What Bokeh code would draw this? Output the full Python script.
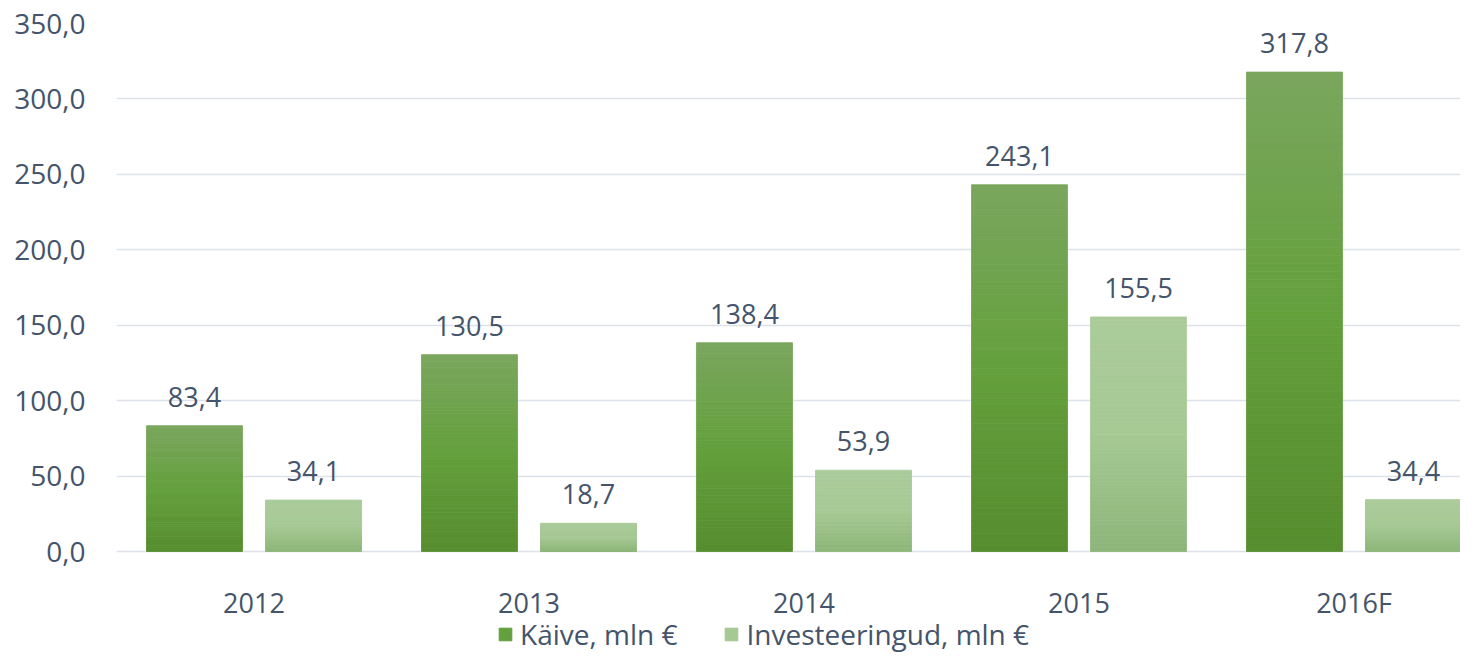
from bokeh.plotting import figure
from bokeh.models import (ColumnDataSource, FixedTicker, CustomJSTickFormatter,
                          Legend, LegendItem, Range1d)
from bokeh.core.properties import value
from bokeh.embed import file_html
from bokeh.resources import INLINE

# ---- data ----
years = ["2012", "2013", "2014", "2015", "2016F"]
kaive = [83.4, 130.5, 138.4, 243.1, 317.8]
invest = [34.1, 18.7, 53.9, 155.5, 34.4]
series_names = ["Käive, mln €", "Investeeringud, mln €"]
y_ticks = [0, 50, 100, 150, 200, 250, 300, 350]

FONT = "Open Sans"
TXT = "#44546a"

# gradient stops (bottom, middle, top)
grad_dark = ["#568d2e", "#64a03c", "#7aa65e"]
grad_light = ["#8db579", "#a6c994", "#abcb9b"]


def hex2rgb(h):
    h = h.lstrip("#")
    return tuple(int(h[i:i + 2], 16) for i in (0, 2, 4))


def interp(stops, t):
    c = [hex2rgb(s) for s in stops]
    if t <= 0.5:
        a, b, f = c[0], c[1], t / 0.5
    else:
        a, b, f = c[1], c[2], (t - 0.5) / 0.5
    return "#%02x%02x%02x" % tuple(int(round(a[i] + (b[i] - a[i]) * f)) for i in range(3))


# frame: top 23px, zero line at 551px, bottom 656px -> 528px for 350 units
px_per_unit = 528 / 350
y_bottom = -(656 - 551) / px_per_unit

p = figure(width=1460, height=656, output_backend="svg", toolbar_location=None,
           x_range=Range1d(-0.5, -0.5 + 1344 / 275), y_range=Range1d(y_bottom, 350),
           min_border_left=116, min_border_right=0, min_border_top=23,
           min_border_bottom=0)
p.outline_line_color = None
p.background_fill_color = "white"
p.border_fill_color = "white"

offset = 0.2164
bar_w = 0.349
N = 60
renderers = []
for vals, stops, off in [(kaive, grad_dark, -offset), (invest, grad_light, offset)]:
    xs, bots, tops, cols = [], [], [], []
    for i, v in enumerate(vals):
        for k in range(N):
            xs.append(i + off)
            bots.append(v * k / N)
            tops.append(v * (k + 1) / N)
            cols.append(interp(stops, (k + 0.5) / N))
    src = ColumnDataSource(dict(x=xs, bottom=bots, top=tops, color=cols))
    r = p.vbar(x="x", bottom="bottom", top="top", width=bar_w, source=src,
               fill_color="color", line_color="color", line_width=0.8)
    renderers.append(r)

    lsrc = ColumnDataSource(dict(x=[i + off for i in range(len(vals))], y=vals,
                                 t=[f"{v:.1f}".replace(".", ",") for v in vals]))
    p.text(x="x", y="y", text="t", source=lsrc, text_align="center",
           text_baseline="alphabetic", y_offset=-29, text_color=TXT,
           text_font=value(FONT), text_font_size="27px")

# axes
p.yaxis.ticker = FixedTicker(ticks=y_ticks)
p.yaxis.formatter = CustomJSTickFormatter(code="return tick.toFixed(1).replace('.', ',');")
p.yaxis.axis_line_color = None
p.yaxis.major_tick_line_color = None
p.yaxis.minor_tick_line_color = None
p.yaxis.major_label_standoff = 25
p.yaxis.major_label_text_font = FONT
p.yaxis.major_label_text_font_size = "28px"
p.yaxis.major_label_text_color = TXT

p.xaxis.fixed_location = 0
p.xaxis.ticker = FixedTicker(ticks=list(range(len(years))))
p.xaxis.major_label_overrides = {i: y for i, y in enumerate(years)}
p.xaxis.axis_line_color = None
p.xaxis.major_tick_line_color = None
p.xaxis.minor_tick_line_color = None
p.xaxis.major_label_standoff = 26
p.xaxis.major_label_text_font = FONT
p.xaxis.major_label_text_font_size = "27px"
p.xaxis.major_label_text_color = TXT

p.xgrid.grid_line_color = None
p.ygrid.grid_line_color = "#dde2ea"
p.ygrid.grid_line_width = 1.6

legend = Legend(items=[LegendItem(label=series_names[0], renderers=[renderers[0]], index=N // 2),
                       LegendItem(label=series_names[1], renderers=[renderers[1]], index=N // 2)],
                orientation="horizontal", location=(381, 3),
                glyph_width=16, glyph_height=16, label_standoff=7, spacing=46,
                padding=0, margin=0, border_line_color=None,
                background_fill_alpha=0,
                label_text_font=FONT, label_text_font_size="28px",
                label_text_color=TXT)
p.add_layout(legend, "center")

open("out.html", "w").write(file_html(p, INLINE))
